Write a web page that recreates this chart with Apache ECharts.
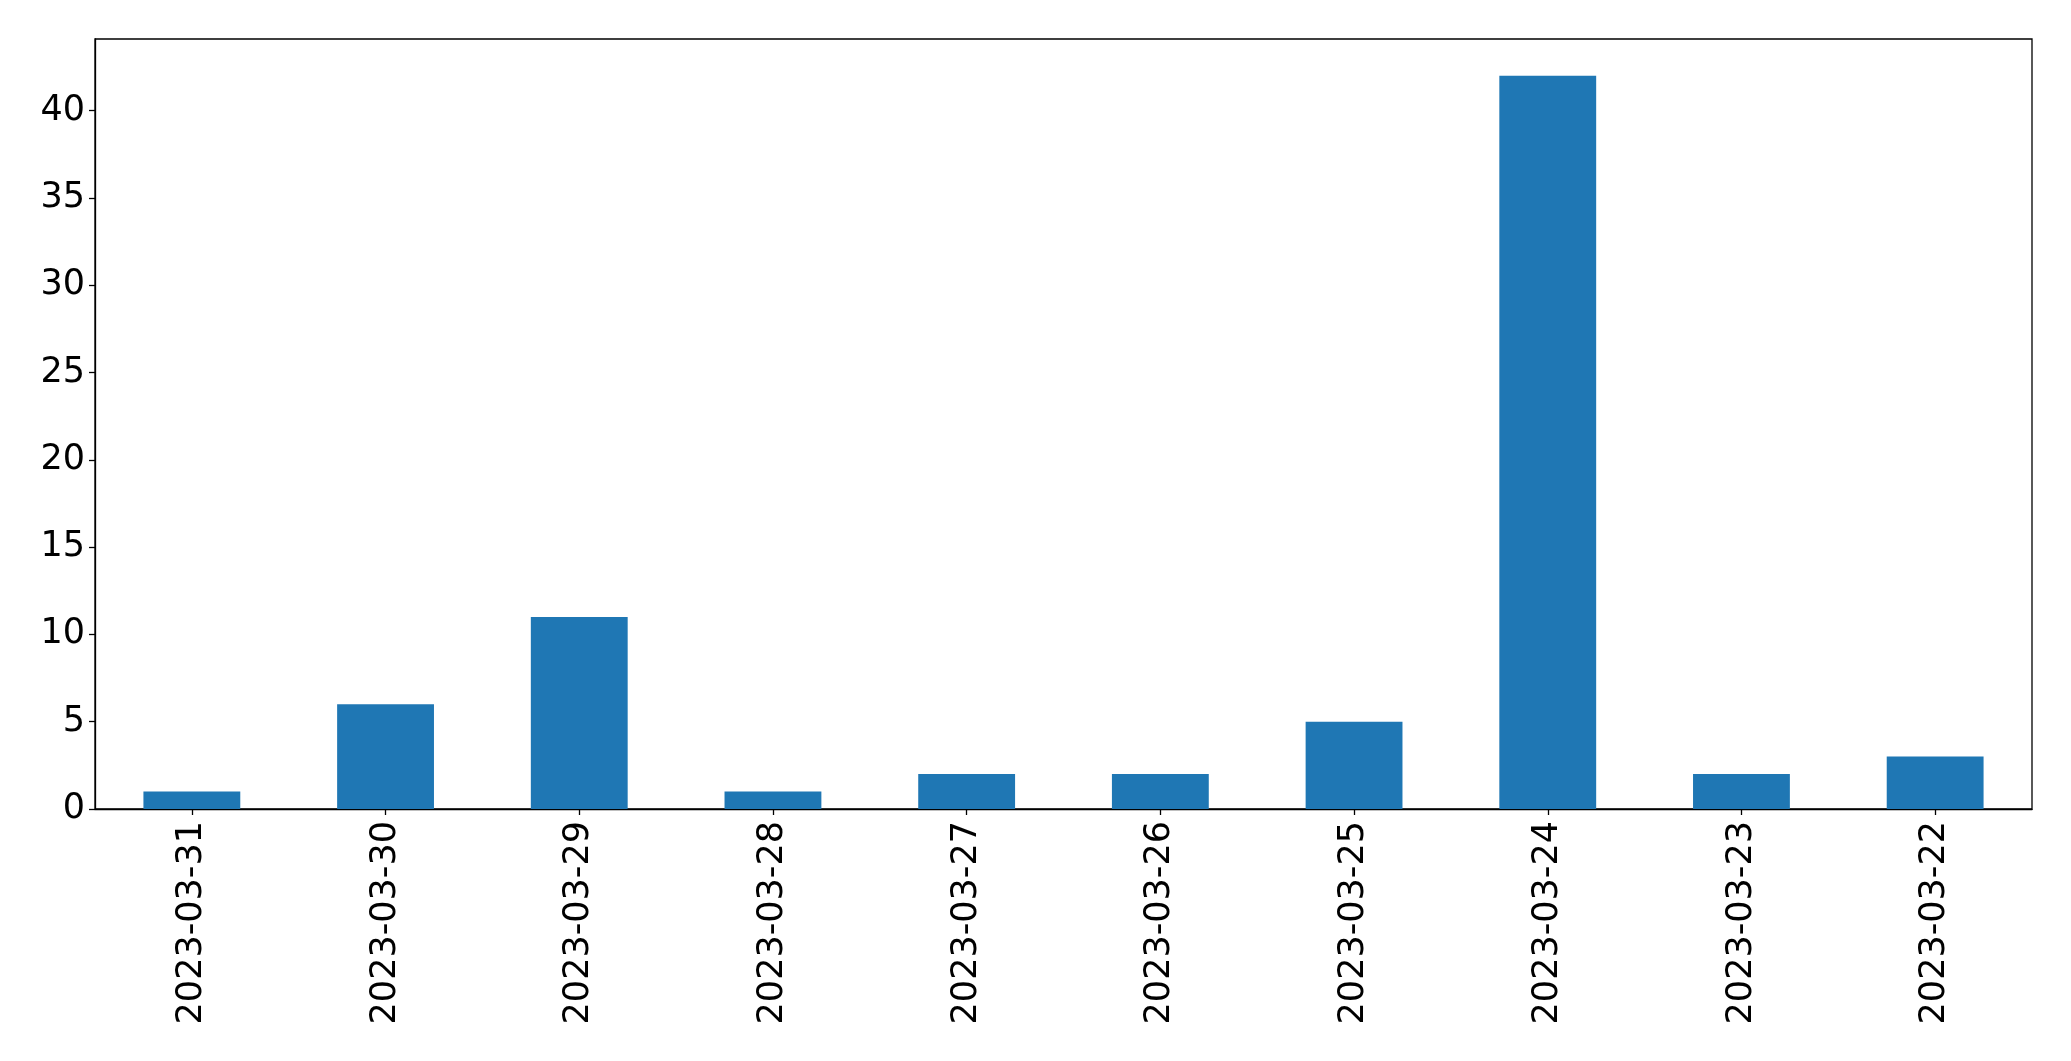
<!DOCTYPE html>
<html>
<head>
<meta charset="utf-8">
<script src="https://cdn.jsdelivr.net/npm/echarts@6/dist/echarts.min.js"></script>
<style>
html,body{margin:0;padding:0;background:#fff;}
#chart{width:2071px;height:1061px;}
</style>
</head>
<body>
<div id="chart"></div>
<script>
const categories = ["2023-03-31","2023-03-30","2023-03-29","2023-03-28","2023-03-27","2023-03-26","2023-03-25","2023-03-24","2023-03-23","2023-03-22"];
const values = [1, 6, 11, 1, 2, 2, 5, 42, 2, 3];
const yTicks = [0, 5, 10, 15, 20, 25, 30, 35, 40];

const chart = echarts.init(document.getElementById('chart'), null, {renderer: 'canvas'});
const font = "DejaVu Sans";
chart.setOption({
  animation: false,
  backgroundColor: '#fff',
  grid: {left: 95, top: 39, width: 1937, height: 770, show: true, borderColor: '#000', borderWidth: 1.3, containLabel: false},
  xAxis: {
    type: 'category',
    data: categories,
    axisLine: {show: true, lineStyle: {color: '#000', width: 1.3}},
    axisTick: {show: true, alignWithLabel: true, length: 6, lineStyle: {color: '#000', width: 1.3}},
    axisLabel: {rotate: 90, color: '#000', fontSize: 35, fontFamily: font, margin: 12, interval: 0}
  },
  yAxis: {
    type: 'value',
    min: 0,
    max: 44.1,
    interval: 5,
    splitLine: {show: false},
    axisLine: {show: true, lineStyle: {color: '#000', width: 1.3}},
    axisTick: {show: true, length: 6, customValues: yTicks, lineStyle: {color: '#000', width: 1.3}},
    axisLabel: {color: '#000', fontSize: 35, fontFamily: font, margin: 10, customValues: yTicks}
  },
  series: [{
    type: 'bar',
    data: values,
    barWidth: '50%',
    itemStyle: {color: '#1f77b4'}
  }]
});
</script>
</body>
</html>
